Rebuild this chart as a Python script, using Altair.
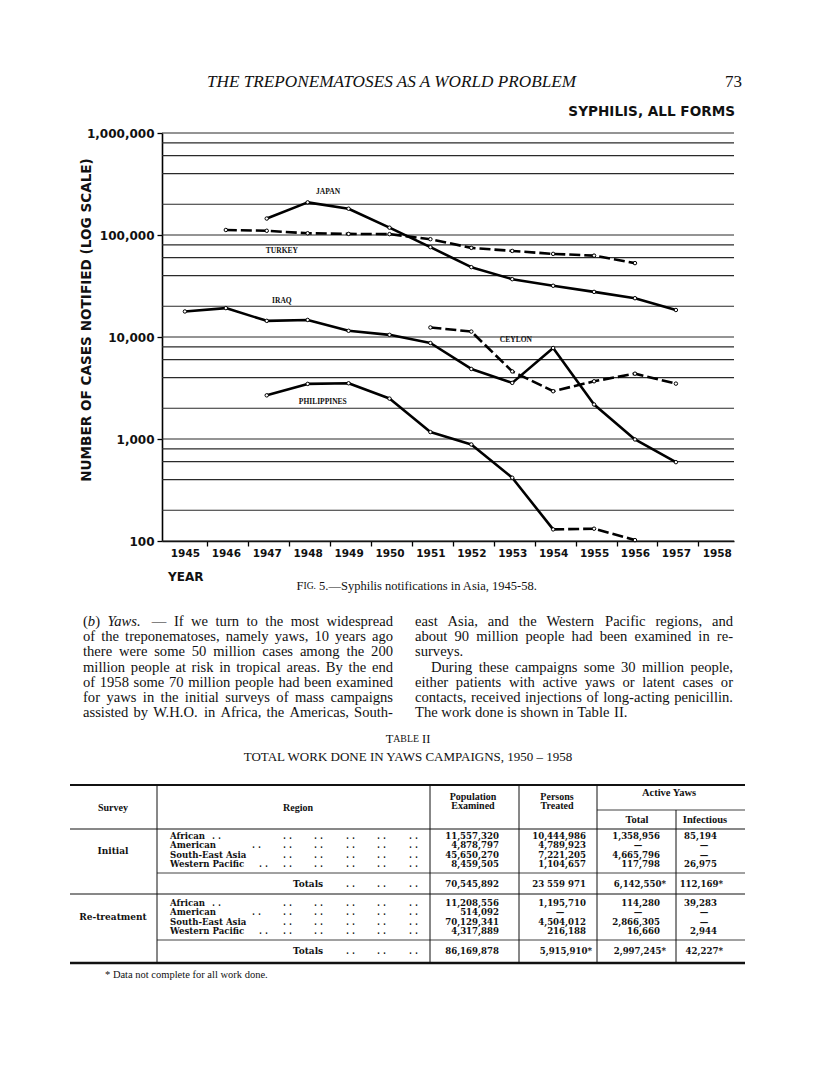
import altair as alt
import pandas as pd

# ---------------- data ----------------
japan_years = list(range(1947, 1958))
japan_cases = [145000, 209000, 181000, 118000, 76000, 48400, 36900, 31800, 27700, 24000, 18400]
turkey_years = list(range(1946, 1957))
turkey_cases = [112000, 110000, 104000, 102500, 102000, 91000, 74800, 69800, 65300, 62800, 53000]
iraq_years = list(range(1945, 1958))
iraq_cases = [17800, 19200, 14400, 14700, 11500, 10500, 8730, 4860, 3550, 7800, 2180, 990, 593]
ceylon_years = list(range(1951, 1958))
ceylon_cases = [12400, 11300, 4600, 2940, 3680, 4370, 3490]
phil_years = list(range(1947, 1957))
phil_cases = [2680, 3470, 3520, 2490, 1170, 884, 417, 130, 132, 102]

year_ticks = list(range(1945, 1959))
y_label_values = [100, 1000, 10000, 100000, 1000000]
grid_values = [m * 10 ** k for k in range(2, 6) for m in (1, 2, 4, 6, 8)] + [1000000]

label_names = ["JAPAN", "TURKEY", "IRAQ", "CEYLON", "PHILIPPINES"]
label_years = [1948.5, 1947.37, 1947.37, 1953.09, 1948.37]
label_cases = [264000, 69800, 22600, 9420, 2330]

# table
regions = ["African", "American", "South-East Asia", "Western Pacific"]
init_pop = ["11,557,320", "4,878,797", "45,650,270", "8,459,505"]
init_treated = ["10,444,986", "4,789,923", "7,221,205", "1,104,657"]
init_total = ["1,358,956", "—", "4,665,796", "117,798"]
init_inf = ["85,194", "—", "—", "26,975"]
init_totals = ["70,545,892", "23 559 971", "6,142,550*", "112,169*"]
re_pop = ["11,208,556", "514,092", "70,129,341", "4,317,889"]
re_treated = ["1,195,710", "—", "4,504,012", "216,188"]
re_total = ["114,280", "—", "2,866,305", "16,660"]
re_inf = ["39,283", "—", "—", "2,944"]
re_totals = ["86,169,878", "5,915,910*", "2,997,245*", "42,227*"]

left_lines = [
    "(|b*|) Yaws.* — If we turn to the most widespread",
    "of the treponematoses, namely yaws, 10 years ago",
    "there were some 50 million cases among the 200",
    "million people at risk in tropical areas. By the end",
    "of 1958 some 70 million people had been examined",
    "for yaws in the initial surveys of mass campaigns",
    "assisted by W.H.O. in Africa, the Americas, South-",
]
right_lines = [
    "east Asia, and the Western Pacific regions, and",
    "about 90 million people had been examined in re-",
    "surveys.",
    "During these campaigns some 30 million people,",
    "either patients with active yaws or latent cases or",
    "contacts, received injections of long-acting penicillin.",
    "The work done is shown in Table II.",
]

# ---------------- layout helpers ----------------
OX, OY = 162, 133          # page position of plot origin
PW, PH = 572, 408          # plot area

TW = {' ': 250, '(': 333, ')': 333, '*': 500, ',': 250, '-': 333, '.': 250, ':': 278, ';': 278,
      'A': 722, 'B': 667, 'C': 667, 'D': 722, 'E': 611, 'F': 556, 'G': 722, 'H': 722, 'I': 333,
      'J': 389, 'K': 722, 'L': 611, 'M': 889, 'N': 722, 'O': 722, 'P': 556, 'Q': 722, 'R': 667,
      'S': 556, 'T': 611, 'U': 722, 'V': 722, 'W': 944, 'X': 722, 'Y': 722, 'Z': 611,
      'a': 444, 'b': 500, 'c': 444, 'd': 500, 'e': 444, 'f': 333, 'g': 500, 'h': 500, 'i': 278,
      'j': 278, 'k': 500, 'l': 278, 'm': 778, 'n': 500, 'o': 500, 'p': 500, 'q': 500, 'r': 333,
      's': 389, 't': 278, 'u': 500, 'v': 500, 'w': 722, 'x': 500, 'y': 500, 'z': 444,
      '—': 1000, '–': 500}


def tw(s, size):
    return sum(TW.get(ch, 500) for ch in s) * size / 1000.0


texts = []


def put(x, y, t, s, font="Liberation Serif", style="normal", weight="normal",
        align="left", angle=0, baseline="middle"):
    texts.append(dict(x=x - OX, y=y - OY, t=t, s=s, font=font, style=style,
                      weight=weight, align=align, angle=angle, baseline=baseline))


def runs_at(runs, x, y, align="left", **kw):
    total = sum(tw(t, s) for t, s in runs)
    if align == "center":
        x = x - total / 2
    for t, s in runs:
        lead = len(t) - len(t.lstrip(' '))
        put(x + tw(' ' * lead, s), y, t.lstrip(' '), s, **kw)
        x += tw(t, s)


BODY = 14.6


def lay_line(line, x0, x1, y, justify, indent=0):
    words = line.split(' ')
    segs = []
    for w in words:
        parts = []
        for p in w.split('|'):
            if len(p) > 1 and p.endswith('*'):
                parts.append((p[:-1], "italic"))
            else:
                parts.append((p, "normal"))
        segs.append(parts)
    widths = [sum(tw(p, BODY) for p, _ in parts) for parts in segs]
    if justify and len(words) > 1:
        gap = (x1 - x0 - indent - sum(widths)) / (len(words) - 1)
    else:
        gap = tw(' ', BODY)
    x = x0 + indent
    for parts in segs:
        for p, st in parts:
            put(x, y, p, BODY, style=st)
            x += tw(p, BODY)
        x += gap


line_y = [622 + i * 15.2 for i in range(7)]
for i, ln in enumerate(left_lines):
    lay_line(ln, 83, 393, line_y[i], True)
for i, ln in enumerate(right_lines):
    lay_line(ln, 415, 733, line_y[i], i not in (2, 6), indent=16 if i == 3 else 0)

# page header / captions
put(207, 82, "THE TREPONEMATOSES AS A WORLD PROBLEM", 17.2, style="italic")
put(742, 82, "73", 17, align="right")
put(735, 112, "SYPHILIS, ALL FORMS", 13.6, font="DejaVu Sans", weight="bold", align="right")
put(87, 320, "NUMBER OF CASES NOTIFIED  (LOG SCALE)", 13.6, font="DejaVu Sans",
    weight="bold", align="center", angle=270)
put(168, 577, "YEAR", 12, font="DejaVu Sans", weight="bold")
runs_at([("F", 12.5), ("IG.", 9.6), (" 5.—Syphilis notifications in Asia, 1945-58.", 12.5)],
        417, 586, align="center")
runs_at([("T", 12.5), ("ABLE", 9.8), (" II", 12.5)], 408, 739, align="center")
put(408, 757, "TOTAL WORK DONE IN YAWS CAMPAIGNS, 1950 – 1958", 13, align="center")
put(105, 975, "* Data not complete for all work done.", 10.5)

# table text
TF = 8.6
TFONT = "DejaVu Serif"
put(113, 808, "Survey", 10, weight="bold", align="center")
put(298, 808, "Region", 10, weight="bold", align="center")
put(473, 797, "Population", 10, weight="bold", align="center")
put(473, 806, "Examined", 10, weight="bold", align="center")
put(557, 797, "Persons", 10, weight="bold", align="center")
put(557, 806, "Treated", 10, weight="bold", align="center")
put(669, 793, "Active Yaws", 10.5, weight="bold", align="center")
put(637, 820, "Total", 10.5, weight="bold", align="center")
put(705, 820, "Infectious", 10.5, weight="bold", align="center")

col_right = [499, 586, 660, 717]
col_dash = [474, 560, 638, 704]
dot_cols = [[212, 283, 314, 346, 377, 409], [252, 283, 314, 346, 377, 409],
            [283, 314, 346, 377, 409], [259, 283, 314, 346, 377, 409]]


def table_block(name, name_y, row_y, cols, totals, totals_y):
    put(113, name_y, name, TF + 0.4, font=TFONT, weight="bold", align="center")
    for r, reg in enumerate(regions):
        put(170, row_y[r], reg, TF, font=TFONT, weight="bold")
        for dx in dot_cols[r]:
            put(dx, row_y[r], ". .", TF, font=TFONT, weight="bold")
        for c, col in enumerate(cols):
            v = col[r]
            if v == "—":
                put(col_dash[c], row_y[r], v, TF, font=TFONT, weight="bold", align="center")
            else:
                put(col_right[c], row_y[r], v, TF, font=TFONT, weight="bold", align="right")
    put(293, totals_y, "Totals", TF + 0.4, font=TFONT, weight="bold")
    for dx in [346, 377, 409]:
        put(dx, totals_y, ". .", TF, font=TFONT, weight="bold")
    for c, v in enumerate(totals):
        off = 6 if v.endswith('*') else 0
        put(col_right[c] + off, totals_y, v, TF, font=TFONT, weight="bold", align="right")


table_block("Initial", 851, [836, 845.3, 854.6, 863.9],
            [init_pop, init_treated, init_total, init_inf], init_totals, 884)
table_block("Re-treatment", 917, [903, 912.3, 921.6, 930.9],
            [re_pop, re_treated, re_total, re_inf], re_totals, 951)

rules = []


def rule(x1, y1, x2, y2, w):
    rules.append(dict(x=x1 - OX, y=y1 - OY, x2=x2 - OX, y2=y2 - OY, w=w))


rule(70, 785, 745, 785, 2.2)
rule(597, 810, 745, 810, 0.8)
rule(70, 829, 745, 829, 1.0)
rule(157, 873, 745, 873, 0.8)
rule(70, 894, 745, 894, 1.0)
rule(157, 940, 745, 940, 0.8)
rule(70, 963, 745, 963, 2.6)
for vx in (157, 430, 519, 597):
    rule(vx, 785, vx, 963, 1.0)
rule(676, 810, 676, 963, 1.0)

# ---------------- chart ----------------
rows = []


def add(name, seg, style, yrs, vals):
    for yv, cv in zip(yrs, vals):
        rows.append(dict(country=name, seg=seg, style=style, year=yv, cases=cv))


add("Japan", "Japan", "solid", japan_years, japan_cases)
add("Turkey", "Turkey", "dashed", turkey_years, turkey_cases)
add("Iraq", "Iraq", "solid", iraq_years, iraq_cases)
add("Ceylon", "Ceylon", "dashed", ceylon_years, ceylon_cases)
add("Philippines", "Phil_a", "solid", phil_years[:8], phil_cases[:8])
add("Philippines", "Phil_b", "dashed", phil_years[7:], phil_cases[7:])
line_df = pd.DataFrame(rows)
pts_df = line_df.drop_duplicates(["country", "year"])

xs = alt.Scale(domain=[1944.44, 1958.42], nice=False, zero=False)
ys = alt.Scale(type="log", domain=[100, 1000000], nice=False)

xaxis = alt.Axis(values=year_ticks, format="d", tickOffset=22.5, labelOffset=-22.5,
                 tickSize=5, tickWidth=1.3, tickColor="black", domainColor="black",
                 domainWidth=1.6, labelFont="DejaVu Sans", labelFontWeight="bold",
                 labelFontSize=10.5, labelColor="#111", labelPadding=2, grid=False,
                 labelFlush=False, labelOverlap=False,
                 tickOpacity={"condition": {"test": "datum.value >= 1958", "value": 0}, "value": 1})
yaxis = alt.Axis(values=y_label_values, format=",", tickSize=5, tickWidth=1.3,
                 tickColor="black", domainColor="black", domainWidth=1.6,
                 labelFont="DejaVu Sans", labelFontWeight="bold", labelFontSize=12,
                 labelColor="#111", labelPadding=3, grid=False, labelOverlap=False,
                 labelFlush=False)

grid = alt.Chart(pd.DataFrame({"g": grid_values})).mark_rule(
    color="#2a2a2a", strokeWidth=1.1).encode(y=alt.Y("g:Q", scale=ys, axis=yaxis, title=None))

solid = alt.Chart(line_df).transform_filter(alt.datum.style == "solid").mark_line(
    color="black", strokeWidth=2.6, strokeJoin="round").encode(
    x=alt.X("year:Q", scale=xs, axis=xaxis, title=None),
    y=alt.Y("cases:Q", scale=ys, axis=yaxis, title=None),
    detail="seg:N")

dashed = alt.Chart(line_df).transform_filter(alt.datum.style == "dashed").mark_line(
    color="black", strokeWidth=2.6, strokeDash=[11, 4]).encode(
    x=alt.X("year:Q", scale=xs, axis=xaxis, title=None),
    y=alt.Y("cases:Q", scale=ys, axis=yaxis, title=None), detail="seg:N")

points = alt.Chart(pts_df).mark_circle(
    size=12, color="white", stroke="black", strokeWidth=1, opacity=1).encode(
    x=alt.X("year:Q", scale=xs, axis=xaxis, title=None),
    y=alt.Y("cases:Q", scale=ys, axis=yaxis, title=None))

labels = alt.Chart(pd.DataFrame({"name": label_names, "year": label_years,
                                 "cases": label_cases})).mark_text(
    font="Liberation Serif", fontWeight="bold", fontSize=7.5, color="#111").encode(
    x=alt.X("year:Q", scale=xs, axis=xaxis, title=None),
    y=alt.Y("cases:Q", scale=ys, axis=yaxis, title=None), text="name:N")

rule_layer = alt.Chart(pd.DataFrame(rules)).mark_rule(color="#111").encode(
    x=alt.X("x:Q", scale=None, axis=None), x2="x2:Q",
    y=alt.Y("y:Q", scale=None, axis=None), y2="y2:Q",
    strokeWidth=alt.StrokeWidth("w:Q", scale=None, legend=None))

tdf = pd.DataFrame(texts)
text_layers = []
for key, g in tdf.groupby(["font", "style", "weight", "align", "angle", "baseline"]):
    font, style, weight, align, angle, baseline = key
    text_layers.append(
        alt.Chart(g[["x", "y", "t", "s"]].reset_index(drop=True)).mark_text(
            font=font, fontStyle=style, fontWeight=weight, align=align,
            baseline=baseline, angle=float(angle), color="#111").encode(
            x=alt.X("x:Q", scale=None, axis=None),
            y=alt.Y("y:Q", scale=None, axis=None),
            text="t:N",
            size=alt.Size("s:Q", scale=None, legend=None)))

chart = alt.layer(grid, solid, dashed, points, labels, rule_layer, *text_layers).properties(
    width=PW, height=PH,
    autosize=alt.AutoSizeParams(type="none"),
    padding={"left": OX - 8, "top": OY - 8, "right": 816 - 8 - 8 - OX - PW, "bottom": 1063 - (OY - 8) - PH},
    background="white",
).configure_view(stroke="transparent")

chart.save("out.html", embed_options={"renderer": "svg", "actions": False})
